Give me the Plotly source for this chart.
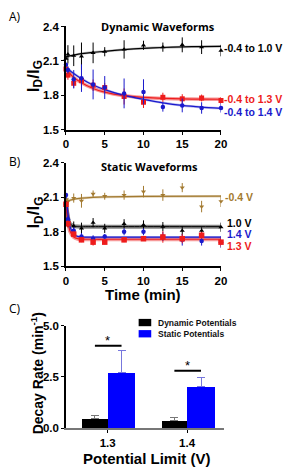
import plotly.graph_objects as go

# ---------------- data ----------------
t = [0, 0.25, 1, 2, 3.5, 5, 7.5, 10, 12.5, 15, 17.5, 20]

# Panel A (dynamic waveforms)
dynA_10_y = [2.12, 2.157, 2.145, 2.14, 2.17, 2.18, 2.2, 2.236, 2.22, 2.24, 2.22, 2.19]
dynA_10_e = [0.0, 0.08, 0.09, 0.12, 0.09, 0.04, 0.08, 0.04, 0.04, 0.065, 0.06, 0.05]
dynA_13_y = [2.03, 1.976, 1.905, 1.93, 1.888, 1.868, 1.79, 1.74, 1.783, 1.77, 1.777, 1.755]
dynA_13_e = [0.0, 0.04, 0.04, 0.05, 0.05, 0.04, 0.07, 0.05, 0.04, 0.04, 0.03, 0.03]
dynA_14_y = [2.066, 2.02, 1.94, 1.95, 1.895, 1.868, 1.817, 1.83, 1.698, 1.712, 1.69, 1.69]
dynA_14_e = [0.0, 0.03, 0.08, 0.12, 0.13, 0.1, 0.13, 0.11, 0.04, 0.06, 0.05, 0.04]

fitA_t = [0, 1, 2, 3.5, 5, 7.5, 10, 12.5, 15, 17.5, 20]
fitA_10 = [2.135, 2.15, 2.163, 2.175, 2.183, 2.199, 2.21, 2.217, 2.222, 2.225, 2.227]
fitA_13 = [2.025, 1.955, 1.91, 1.86, 1.828, 1.797, 1.782, 1.773, 1.769, 1.767, 1.766]
fitA_14 = [2.045, 1.99, 1.945, 1.89, 1.85, 1.80, 1.765, 1.735, 1.712, 1.697, 1.687]

# Panel B (static waveforms)
stB_m04_y = [2.08, 2.066, 2.094, 2.07, 2.13, 2.11, 2.12, 2.15, 2.12, 2.185, 2.02, 2.066]
stB_m04_e = [0.0, 0.03, 0.04, 0.06, 0.03, 0.03, 0.04, 0.05, 0.05, 0.04, 0.05, 0.05]
stB_10_y = [2.05, 1.88, 1.85, 1.83, 1.88, 1.83, 1.87, 1.86, 1.845, 1.81, 1.81, 1.84]
stB_10_e = [0.0, 0.04, 0.04, 0.05, 0.04, 0.04, 0.04, 0.04, 0.04, 0.04, 0.03, 0.04]
stB_14_y = [2.12, 1.91, 1.81, 1.76, 1.74, 1.76, 1.80, 1.80, 1.76, 1.73, 1.72, 1.71]
stB_14_e = [0.0, 0.03, 0.03, 0.03, 0.03, 0.02, 0.03, 0.03, 0.04, 0.05, 0.04, 0.05]
stB_13_y = [2.04, 1.87, 1.78, 1.73, 1.71, 1.71, 1.73, 1.74, 1.755, 1.74, 1.77, 1.71]
stB_13_e = [0.0, 0.03, 0.02, 0.02, 0.03, 0.02, 0.02, 0.02, 0.05, 0.04, 0.03, 0.04]

fitB_t = [0, 0.25, 0.5, 1, 1.5, 2, 3.5, 5, 10, 20]
fitB_m04 = [2.065, 2.068, 2.075, 2.083, 2.089, 2.093, 2.1, 2.104, 2.108, 2.11]
fitB_10 = [2.05, 1.93, 1.87, 1.85, 1.846, 1.845, 1.845, 1.845, 1.845, 1.845]
fitB_14 = [2.11, 1.96, 1.85, 1.78, 1.76, 1.755, 1.753, 1.753, 1.753, 1.753]
fitB_13 = [2.04, 1.90, 1.81, 1.755, 1.74, 1.737, 1.735, 1.735, 1.735, 1.735]

# Panel C (decay rates)
limits = ["1.3", "1.4"]
series_names = ["Dynamic Potentials", "Static Potentials"]
dyn_rate = [0.47, 0.38]
dyn_err = [0.13, 0.12]
stat_rate = [2.71, 2.02]
stat_err = [1.08, 0.47]
sig_y = [4.02, 2.8]

BLACK = "#000000"
RED = "#ee1c1c"
BLUE = "#1a1acc"
BAR_BLUE = "#0000ff"
BROWN = "#a37a30"
FONT = "Liberation Sans"

fig = go.Figure()


def add_series(xa, ya, x, y, e, color, symbol, name, size=4.5):
    fig.add_trace(go.Scatter(
        x=x, y=y, mode="markers", xaxis=xa, yaxis=ya, name=name, showlegend=False,
        marker=dict(color=color, symbol=symbol, size=size),
        error_y=dict(type="data", array=e, color=color, thickness=1, width=0),
        cliponaxis=False))


def add_fit(xa, ya, x, y, color, band=None, bw=3.5, lw=1.3):
    if band:
        fig.add_trace(go.Scatter(x=x, y=y, mode="lines", xaxis=xa, yaxis=ya, showlegend=False,
                                 line=dict(color=band, width=bw, shape="spline", smoothing=0.6),
                                 hoverinfo="skip"))
    fig.add_trace(go.Scatter(x=x, y=y, mode="lines", xaxis=xa, yaxis=ya, showlegend=False,
                             line=dict(color=color, width=lw, shape="spline", smoothing=0.6),
                             hoverinfo="skip"))


# Panel A
add_fit("x", "y", fitA_t, fitA_10, BLACK, "rgba(0,0,0,0.25)", 2.5, 1.2)
add_fit("x", "y", fitA_t, fitA_13, RED, "rgba(238,28,28,0.45)", 3.5, 1.2)
add_fit("x", "y", fitA_t, fitA_14, BLUE, "rgba(26,26,204,0.3)", 2.5, 1.2)
add_series("x", "y", t, dynA_10_y, dynA_10_e, BLACK, "triangle-up", "-0.4 to 1.0 V")
add_series("x", "y", t, dynA_13_y, dynA_13_e, RED, "square", "-0.4 to 1.3 V", 5)
add_series("x", "y", t, dynA_14_y, dynA_14_e, BLUE, "circle", "-0.4 to 1.4 V")

# Panel B
add_fit("x2", "y2", fitB_t, fitB_m04, BROWN, "rgba(163,122,48,0.35)", 2.5, 1.2)
add_fit("x2", "y2", fitB_t, fitB_10, BLACK, "rgba(90,90,90,0.75)", 4, 1.0)
add_fit("x2", "y2", fitB_t, fitB_13, RED, "rgba(238,28,28,0.45)", 4, 1.2)
add_fit("x2", "y2", fitB_t, fitB_14, BLUE, "rgba(26,26,204,0.3)", 2.5, 1.2)
add_series("x2", "y2", t, stB_m04_y, stB_m04_e, BROWN, "triangle-down", "-0.4 V")
add_series("x2", "y2", t, stB_10_y, stB_10_e, BLACK, "triangle-up", "1.0 V")
add_series("x2", "y2", t, stB_14_y, stB_14_e, BLUE, "circle", "1.4 V")
add_series("x2", "y2", t, stB_13_y, stB_13_e, RED, "square", "1.3 V", 5.5)

# Panel C
xc = list(range(len(limits)))
fig.add_trace(go.Bar(x=xc, y=dyn_rate, xaxis="x3", yaxis="y3", name=series_names[0],
                     showlegend=False,
                     marker=dict(color=BLACK, line=dict(width=0)), offset=-0.32, width=0.32,
                     error_y=dict(type="data", array=dyn_err, arrayminus=[0, 0], color="#777777",
                                  thickness=1, width=4)))
fig.add_trace(go.Bar(x=xc, y=stat_rate, xaxis="x3", yaxis="y3", name=series_names[1],
                     showlegend=False,
                     marker=dict(color=BAR_BLUE, line=dict(width=0)), offset=0.0, width=0.35,
                     error_y=dict(type="data", array=stat_err, arrayminus=[0, 0], color="#7777dd",
                                  thickness=1, width=4)))

W, H = 289, 475


def px(v):
    return 1 - v / H


shapes = []
annotations = []
for i, sy in enumerate(sig_y):
    shapes.append(dict(type="line", xref="x3", yref="y3", x0=xc[i] - 0.16, x1=xc[i] + 0.175,
                       y0=sy, y1=sy, line=dict(color=BLACK, width=2)))
    annotations.append(dict(xref="paper", yref="y3", x=(65 + 43 + 82 * xc[i]) / W, y=sy, text="*",
                            showarrow=False, yanchor="bottom", yshift=-4,
                            font=dict(family=FONT, size=13, color=BLACK)))

# manual legend for panel C (compact like the reference)
for j, (nm, col) in enumerate(zip(series_names, [BLACK, BAR_BLUE])):
    y0 = 321 + 11.5 * j
    shapes.append(dict(type="rect", xref="paper", yref="paper", x0=140 / W, x1=153 / W,
                       y0=px(y0 + 7.5), y1=px(y0), fillcolor=col, line=dict(width=0)))
    annotations.append(dict(xref="paper", yref="paper", x=158 / W, y=px(y0 + 3.8), text=nm,
                            showarrow=False, xanchor="left", yanchor="middle",
                            font=dict(family=FONT, size=8.5, color="#111111", weight="bold")))

axis_common = dict(showline=True, linecolor=BLACK, linewidth=1.6, ticks="outside", ticklen=3,
                   tickwidth=1.4, tickcolor=BLACK, showgrid=False, zeroline=False,
                   tickfont=dict(family=FONT, size=11.5, color=BLACK, weight="bold"))

xd = [65 / W, 225 / W]
fig.update_layout(
    width=W, height=H, margin=dict(l=0, r=0, t=0, b=0),
    paper_bgcolor="white", plot_bgcolor="white",
    font=dict(family=FONT, color=BLACK),
    xaxis=dict(domain=xd, range=[0, 20], tickvals=[0, 5, 10, 15, 20], anchor="y", **axis_common),
    yaxis=dict(domain=[px(127), px(21)], range=[1.5, 2.4], tickvals=[1.5, 1.8, 2.1, 2.4],
               tickformat=".1f", anchor="x", **axis_common),
    xaxis2=dict(domain=xd, range=[0, 20], tickvals=[0, 5, 10, 15, 20], anchor="y2", **axis_common),
    yaxis2=dict(domain=[px(267), px(161)], range=[1.5, 2.4], tickvals=[1.5, 1.8, 2.1, 2.4],
                tickformat=".1f", anchor="x2", **axis_common),
    xaxis3=dict(domain=[65 / W, 228 / W], range=[-0.524, 1.463], tickvals=xc, ticktext=limits,
                anchor="y3", **{**axis_common, "linecolor": "#777777"}),
    yaxis3=dict(domain=[px(433), px(328)], range=[0, 5], tickvals=[0, 2.5, 5.0],
                tickformat=".1f", anchor="x3", **axis_common),
    showlegend=False,
    bargap=0,
    shapes=shapes,
)


def txt(x, y, s, size, color=BLACK, bold=True, xanchor="left", angle=0, family=FONT):
    annotations.append(dict(xref="paper", yref="paper", x=x / W, y=px(y), text=s, showarrow=False,
                            xanchor=xanchor, yanchor="middle", textangle=angle,
                            font=dict(family=family, size=size, color=color,
                                      weight="bold" if bold else "normal")))


txt(4, 11, "A)", 12, family="Open Sans", bold=False)
txt(4, 160, "B)", 12, family="Open Sans", bold=False)
txt(4, 310, "C)", 12, family="Open Sans", bold=False)
txt(160, 21, "Dynamic Waveforms", 11, xanchor="center", family="Open Sans")
txt(151, 165, "Static Waveforms", 11, xanchor="center", family="Open Sans")

txt(226, 43, "-0.4 to 1.0 V", 10.5, BLACK)
txt(226, 95, "-0.4 to 1.3 V", 10.5, RED)
txt(226, 109, "-0.4 to 1.4 V", 10.5, BLUE)
txt(227, 196, "-0.4 V", 10.5, BROWN)
txt(229, 223, "1.0 V", 10.5, BLACK)
txt(229, 234, "1.4 V", 10.5, BLUE)
txt(229, 246, "1.3 V", 10.5, RED)

txt(33, 72, "I<sub>D</sub>/I<sub>G</sub>", 17, angle=-90, xanchor="center")
txt(33, 212, "I<sub>D</sub>/I<sub>G</sub>", 17, angle=-90, xanchor="center")
txt(145, 296, "Time (min)", 15, xanchor="center")
txt(36, 377, "Decay Rate (min<sup>-1</sup>)", 14, angle=-90, xanchor="center")
txt(149, 464, "Potential Limit (V)", 15, xanchor="center")

fig.update_layout(annotations=annotations)
fig.write_html("out.html")
